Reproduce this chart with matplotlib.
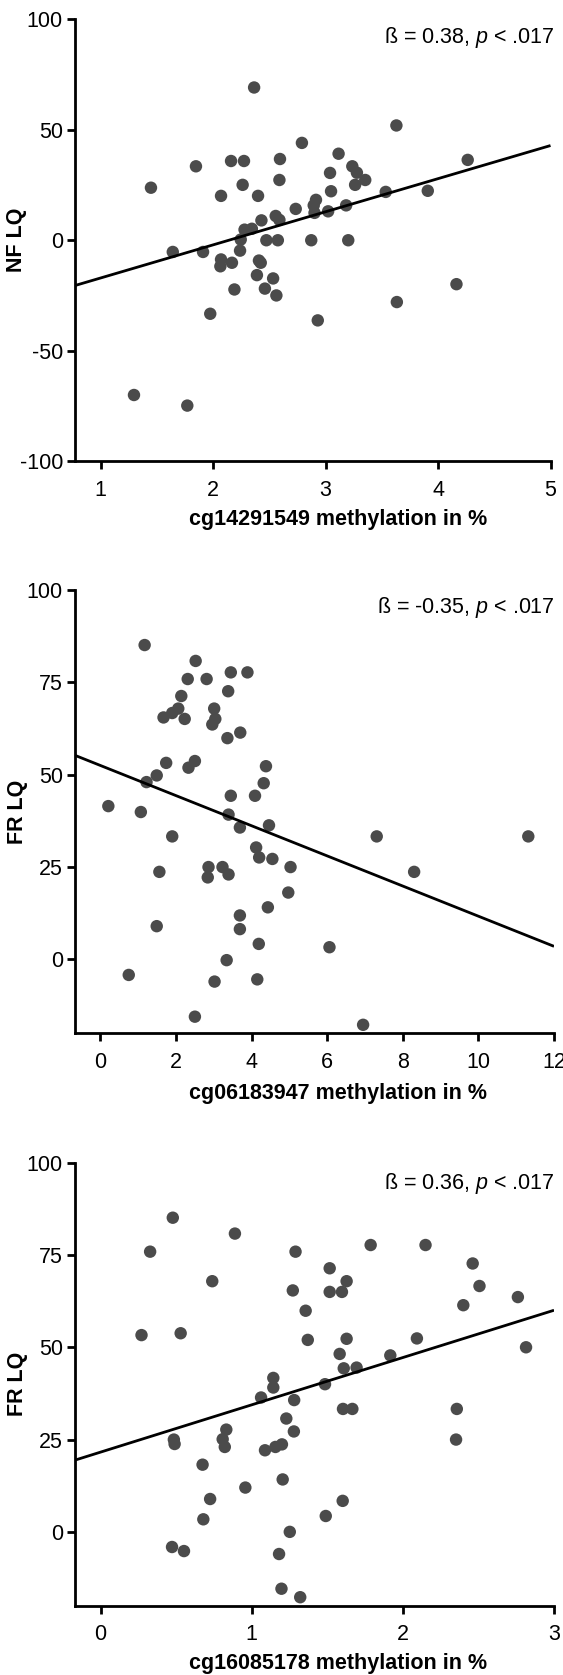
import matplotlib
matplotlib.use("Agg")
import matplotlib.pyplot as plt
import numpy as np

plt.rcParams['font.family'] = ['Liberation Sans', 'DejaVu Sans']
plt.rcParams['axes.unicode_minus'] = False
plt.rcParams['mathtext.fontset'] = 'custom'
plt.rcParams['mathtext.rm'] = 'Liberation Sans'
plt.rcParams['mathtext.it'] = 'Liberation Sans:italic'

# ---------------- data ----------------
# Panel 1: cg14291549 vs NF LQ
p1_x = [2.365, 3.63, 2.79, 3.116, 4.264, 1.848, 2.16, 2.275, 2.595, 2.59,
        2.263, 1.448, 2.071, 2.40, 3.04, 3.238, 3.279, 3.353, 3.263, 3.049,
        3.535, 3.909, 2.915, 2.895, 3.183, 2.735, 2.902, 3.023, 2.557, 2.59,
        2.43, 2.28, 2.345, 2.246, 2.474, 2.576, 2.873, 3.202, 1.642, 1.911,
        2.24, 2.071, 2.065, 2.168, 2.408, 2.424, 2.39, 2.534, 2.19, 2.461,
        2.563, 1.975, 2.931, 3.634, 4.164, 1.297, 1.771]
p1_y = [69.2, 52.0, 44.1, 39.2, 36.4, 33.5, 35.9, 35.9, 36.8, 27.3,
        25.1, 23.8, 20.1, 20.1, 30.5, 33.5, 30.6, 27.3, 25.1, 22.2,
        21.9, 22.4, 18.3, 15.8, 15.8, 14.2, 12.4, 13.1, 11.0, 9.2,
        9.0, 4.8, 5.2, 0.3, 0.0, 0.0, 0.0, 0.0, -5.3, -5.3,
        -4.7, -8.7, -11.8, -10.2, -9.2, -10.2, -15.8, -17.3, -22.3, -21.9,
        -25.0, -33.3, -36.3, -28.0, -19.9, -70.1, -74.9]
p1_intercept, p1_slope = -32.1, 15.0

# Panel 2: cg06183947 vs FR LQ
p2_x = [1.17, 2.52, 2.31, 2.81, 3.45, 3.89, 3.38, 2.14, 2.06, 1.90,
        1.67, 2.23, 3.01, 3.04, 2.96, 3.70, 3.36, 1.74, 2.50, 2.33,
        4.38, 1.49, 1.22, 4.32, 3.45, 4.09, 0.21, 1.07, 3.39, 3.69,
        4.46, 1.90, 7.31, 11.32, 4.12, 4.20, 4.55, 2.86, 3.23, 5.03,
        1.56, 8.30, 3.39, 2.84, 4.97, 4.43, 3.69, 3.69, 1.49, 4.19,
        6.06, 3.34, 0.75, 3.02, 4.15, 2.50, 6.95]
p2_y = [85.1, 80.8, 75.9, 75.9, 77.7, 77.7, 72.6, 71.3, 67.9, 66.7,
        65.5, 65.1, 67.9, 65.1, 63.6, 61.4, 59.9, 53.2, 53.7, 51.9,
        52.3, 49.8, 48.0, 47.7, 44.3, 44.3, 41.5, 39.9, 39.2, 35.7,
        36.3, 33.3, 33.3, 33.3, 30.3, 27.6, 27.2, 25.0, 25.0, 25.0,
        23.7, 23.7, 23.0, 22.2, 18.1, 14.1, 11.9, 8.2, 9.0, 4.2,
        3.3, -0.2, -4.2, -6.0, -5.4, -15.5, -17.7]
p2_intercept, p2_slope = 52.5, -4.08

# Panel 3: cg16085178 vs FR LQ
p3_x = [0.478, 0.889, 0.328, 1.29, 1.787, 2.150, 2.462, 1.516, 1.628, 0.739,
        2.507, 1.272, 1.516, 1.597, 2.761, 2.40, 1.357, 0.271, 0.530, 1.371,
        1.628, 2.093, 2.815, 1.582, 1.917, 1.609, 1.694, 1.143, 1.143, 1.485,
        1.062, 1.281, 1.604, 1.666, 2.357, 1.229, 0.832, 1.279, 0.808, 0.485,
        0.49, 0.822, 1.088, 1.157, 1.200, 2.352, 0.675, 1.205, 0.958, 0.725,
        1.602, 0.680, 1.490, 1.252, 0.473, 0.552, 1.181, 1.197, 1.321]
p3_y = [85.1, 80.8, 75.9, 75.9, 77.7, 77.7, 72.7, 71.4, 67.9, 67.9,
        66.6, 65.4, 65.0, 65.0, 63.6, 61.4, 59.9, 53.3, 53.8, 52.0,
        52.3, 52.4, 50.0, 48.2, 47.8, 44.3, 44.5, 41.7, 39.1, 40.0,
        36.4, 35.7, 33.3, 33.3, 33.3, 30.7, 27.7, 27.2, 25.1, 25.0,
        23.8, 23.0, 22.1, 23.0, 23.7, 25.0, 18.2, 14.2, 12.0, 8.9,
        8.4, 3.4, 4.3, 0.0, -4.1, -5.2, -6.0, -15.4, -17.7]
p3_intercept, p3_slope = 21.6, 12.81

x_labels = ["cg14291549 methylation in %", "cg06183947 methylation in %",
            "cg16085178 methylation in %"]
y_labels = ["NF LQ", "FR LQ", "FR LQ"]
betas = ["0.38", "-0.35", "0.36"]
p_thresholds = [".017", ".017", ".017"]

# ---------------- layout ----------------
W, H = 563, 1675
fig = plt.figure(figsize=(W / 100, H / 100), dpi=100)

# pixel boxes: left, right, top, bottom
boxes = [(74.7, 550.5, 19.5, 461.0),
         (74.7, 554.0, 590.0, 1033.3),
         (74.7, 554.0, 1162.7, 1605.7)]
xlims = [(0.77, 5), (-0.68, 12), (-0.171, 3)]
ylims = [(-100, 100), (-20, 100), (-20, 100)]
xticks = [np.arange(1, 6, 1), np.arange(0, 13, 2), np.arange(0, 4, 1)]
yticks = [np.arange(-100, 101, 50), np.arange(0, 101, 25), np.arange(0, 101, 25)]
ann_y = [37, 608, 1183]
xlabel_y = [519, 1093, 1663]

datasets = [(p1_x, p1_y, p1_intercept, p1_slope),
            (p2_x, p2_y, p2_intercept, p2_slope),
            (p3_x, p3_y, p3_intercept, p3_slope)]

dot_color = '#4b4b4b'
fs = 15.5

for i, (xs, ys, b0, b1) in enumerate(datasets):
    l, r, t, b = boxes[i]
    ax = fig.add_axes([l / W, 1 - b / H, (r - l) / W, (b - t) / H])
    ax.scatter(xs, ys, s=80, color=dot_color, edgecolors='none', zorder=3,
               clip_on=False)
    lx = np.array(xlims[i])
    ax.plot(lx, b0 + b1 * lx, color='black', lw=2.0, zorder=4,
            solid_capstyle='butt')
    ax.set_xlim(*xlims[i])
    ax.set_ylim(*ylims[i])
    ax.set_xticks(xticks[i])
    ax.set_yticks(yticks[i])
    for s in ['top', 'right']:
        ax.spines[s].set_visible(False)
    for s in ['left', 'bottom']:
        ax.spines[s].set_linewidth(2.0)
        ax.spines[s].set_color('black')
    ax.tick_params(axis='both', direction='out', length=6, width=2.0,
                   color='black', labelsize=fs)
    ax.tick_params(axis='x', pad=7.5)
    ax.tick_params(axis='y', pad=2.5)
    ax.set_xlabel(x_labels[i], fontsize=fs, fontweight='bold')
    ax.set_ylabel(y_labels[i], fontsize=fs, fontweight='bold')
    ax.xaxis.set_label_coords((338 - l) / (r - l), -(xlabel_y[i] - b) / (b - t))
    ax.xaxis.label.set_va('center')
    ax.yaxis.set_label_coords((17 - l) / (r - l), 0.5)
    ax.yaxis.label.set_va('center')
    fig.text(555 / W, 1 - ann_y[i] / H,
             "ß = " + betas[i] + ", $p$ < " + p_thresholds[i],
             ha='right', va='center', fontsize=fs)

fig.savefig("out.png", dpi=100)
